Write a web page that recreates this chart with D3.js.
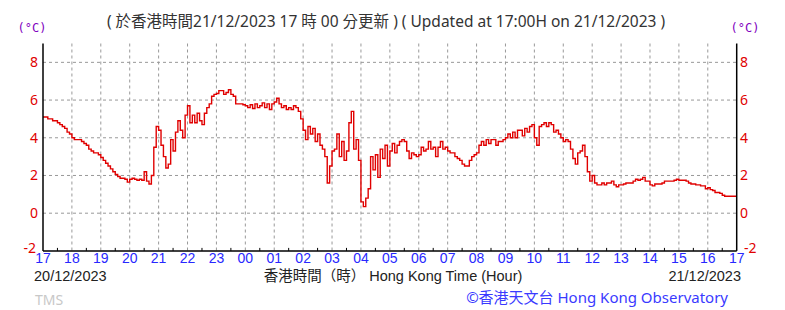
<!DOCTYPE html>
<html>
<head>
<meta charset="utf-8">
<script src="https://cdn.jsdelivr.net/npm/d3@7.9.0/dist/d3.min.js"></script>
<style>
  body { margin: 0; background: #fff; }
  text { font-family: "Noto Sans", "Noto Sans CJK TC", sans-serif; }
</style>
</head>
<body>
<div id="chart"></div>
<script>
// hour labels along the bottom (17:00 on 20/12 to 17:00 on 21/12)
const hourLabels = ["17","18","19","20","21","22","23","00","01","02","03","04",
                    "05","06","07","08","09","10","11","12","13","14","15","16","17"];
const yTicks = [-2, 0, 2, 4, 6, 8];

// temperature (deg C), one reading every 5 minutes, one row per hour
const temps = [
  5.1,5.1,5.0,5.0,4.9,4.9,4.8,4.7,4.6,4.5,4.3,4.2,          // 17
  4.0,3.9,3.9,3.9,3.8,3.7,3.6,3.4,3.3,3.2,3.2,3.1,          // 18
  2.95,2.8,2.65,2.5,2.35,2.2,2.05,1.95,1.85,1.85,1.8,1.65,  // 19
  1.8,1.85,1.8,1.75,1.8,1.75,2.2,1.7,1.55,2.0,3.5,4.6,      // 20
  4.4,3.6,3.0,2.4,2.6,3.9,3.3,4.3,4.9,4.4,4.0,5.2,          // 21
  5.7,4.8,5.2,4.8,5.3,4.9,4.7,5.3,5.6,5.8,6.2,6.3,          // 22
  6.35,6.5,6.5,6.3,6.4,6.55,6.3,6.2,5.8,5.8,5.8,5.75,       // 23
  5.7,5.6,5.75,5.55,5.8,5.6,5.7,5.85,5.6,5.8,5.5,5.8,       // 00
  5.9,6.1,5.8,5.6,5.7,5.5,5.6,5.5,5.7,5.6,5.4,5.0,          // 01
  4.4,3.9,4.6,4.2,4.5,3.8,4.2,3.6,3.4,3.0,1.6,2.5,          // 02
  3.3,3.4,4.2,3.0,3.8,2.8,3.3,4.8,5.4,3.4,3.9,2.8,          // 03
  0.6,0.35,0.8,1.3,3.0,2.3,3.1,1.9,3.4,2.9,3.6,2.5,         // 04
  3.3,3.7,3.2,3.6,3.8,3.9,3.8,3.3,2.9,3.2,3.1,3.0,          // 05
  3.1,3.5,3.3,3.4,3.8,3.4,3.5,3.0,3.5,3.8,3.4,3.5,          // 06
  3.3,3.2,3.2,3.0,2.9,2.8,2.6,2.5,2.5,2.8,3.0,3.1,          // 07
  3.2,3.6,3.8,3.6,3.9,3.7,3.9,3.9,3.6,3.8,3.8,3.9,          // 08
  4.0,4.2,4.0,4.3,4.0,4.4,4.4,4.1,4.5,4.3,4.6,4.7,          // 09
  4.0,3.6,4.6,4.7,4.8,4.6,4.8,4.7,4.3,4.4,4.2,4.0,          // 10
  3.8,3.9,3.8,3.4,2.9,2.6,3.2,3.3,3.6,3.0,2.2,1.7,          // 11
  2.0,1.6,1.5,1.5,1.6,1.5,1.6,1.6,1.7,1.5,1.4,1.5,          // 12
  1.5,1.55,1.6,1.6,1.6,1.7,1.8,1.75,1.8,1.9,1.7,1.7,        // 13
  1.5,1.45,1.55,1.55,1.55,1.6,1.7,1.7,1.7,1.7,1.75,1.8,     // 14
  1.75,1.75,1.75,1.7,1.6,1.55,1.55,1.5,1.5,1.45,1.45,1.3,   // 15
  1.35,1.25,1.2,1.1,1.1,1.05,0.95,0.9,0.9,0.9,0.9,0.9,      // 16
  0.9                                                       // 17
];

const W = 785, H = 310;
const plot = { left: 43, right: 736.7, top: 43.5, bottom: 250.9 };

const svg = d3.select("#chart").append("svg")
  .attr("width", W)
  .attr("height", H);

const x = d3.scaleLinear().domain([0, 24]).range([plot.left, plot.right]);
const y = d3.scaleLinear().domain([-2, 9]).range([plot.bottom, plot.top]);

// dashed grid
const hours = d3.range(1, 24);
svg.append("g").selectAll("line").data(hours).join("line")
  .attr("x1", d => x(d)).attr("x2", d => x(d))
  .attr("y1", plot.top).attr("y2", plot.bottom)
  .attr("stroke", "#999").attr("stroke-dasharray", "3,3");
svg.append("g").selectAll("line").data(yTicks.filter(d => d > -2)).join("line")
  .attr("x1", plot.left).attr("x2", plot.right)
  .attr("y1", d => y(d)).attr("y2", d => y(d))
  .attr("stroke", "#999").attr("stroke-dasharray", "3,3");

// temperature line
const line = d3.line()
  .x((d, i) => x(i / 12))
  .y(d => y(d))
  .curve(d3.curveStepAfter);
svg.append("path")
  .datum(temps)
  .attr("d", line)
  .attr("fill", "none")
  .attr("stroke", "#e00000")
  .attr("stroke-width", 1.4);

// axes lines
svg.append("line").attr("x1", plot.left).attr("x2", plot.left)
  .attr("y1", plot.top).attr("y2", plot.bottom).attr("stroke", "#000").attr("stroke-width", 1.5);
svg.append("line").attr("x1", plot.right).attr("x2", plot.right)
  .attr("y1", plot.top).attr("y2", plot.bottom).attr("stroke", "#000").attr("stroke-width", 1.5);
svg.append("line").attr("x1", plot.left).attr("x2", plot.right)
  .attr("y1", plot.bottom).attr("y2", plot.bottom).attr("stroke", "#000").attr("stroke-width", 1.5);

// small half-hour ticks on bottom axis
svg.append("g").selectAll("line").data(d3.range(0.5, 24, 1)).join("line")
  .attr("x1", d => x(d)).attr("x2", d => x(d))
  .attr("y1", plot.bottom - 3).attr("y2", plot.bottom)
  .attr("stroke", "#000");

// y tick labels, both sides
const yLab = svg.append("g")
  .style("font-family", "'Liberation Serif', serif")
  .style("font-size", "14px")
  .attr("fill", "#e00000");
yLab.selectAll("text.l").data(yTicks).join("text")
  .attr("class", "l")
  .attr("x", d => d < 0 ? 36 : 38).attr("y", d => y(d) + (d < 0 ? 2 : 5))
  .attr("text-anchor", "end")
  .text(d => d);
yLab.selectAll("text.r").data(yTicks).join("text")
  .attr("class", "r")
  .attr("x", d => d < 0 ? 744 : 740).attr("y", d => y(d) + (d < 0 ? 2 : 5))
  .attr("text-anchor", "start")
  .text(d => d);

// x tick labels
svg.append("g").selectAll("text").data(hourLabels).join("text")
  .attr("x", (d, i) => x(i))
  .attr("y", 263)
  .attr("text-anchor", "middle")
  .attr("fill", "#2828ff")
  .style("font-family", "'Liberation Sans', sans-serif")
  .style("font-size", "14px")
  .text(d => d);

// units
[32, 745].forEach(cx => {
  svg.append("text")
    .attr("x", cx).attr("y", 32)
    .attr("text-anchor", "middle")
    .attr("fill", "#8000c0")
    .style("font-family", "'DejaVu Sans Mono', monospace")
    .style("font-size", "12px")
    .text("(°C)");
});

// title
svg.append("text")
  .attr("x", 386).attr("y", 27)
  .attr("text-anchor", "middle")
  .attr("fill", "#333")
  .style("font-size", "15.5px")
  .text("( 於香港時間21/12/2023 17 時 00 分更新 ) ( Updated at 17:00H on 21/12/2023 )");

// bottom labels
const bottomFont = "'Liberation Sans', 'Noto Sans CJK TC', sans-serif";
svg.append("text").attr("x", 34).attr("y", 281)
  .attr("fill", "#222").style("font-family", bottomFont).style("font-size", "14.5px").text("20/12/2023");
svg.append("text").attr("x", 741).attr("y", 281)
  .attr("text-anchor", "end")
  .attr("fill", "#222").style("font-family", bottomFont).style("font-size", "14.5px").text("21/12/2023");
svg.append("text").attr("x", 393).attr("y", 281)
  .attr("text-anchor", "middle")
  .attr("fill", "#222").style("font-family", bottomFont).style("font-size", "14.5px")
  .text("香港時間（時） Hong Kong Time (Hour)");
svg.append("text").attr("x", 35).attr("y", 305)
  .attr("fill", "#c8c8c8").style("font-size", "14px").text("TMS");
svg.append("text").attr("x", 728).attr("y", 303)
  .attr("text-anchor", "end")
  .attr("fill", "#3a3aff").style("font-size", "15px")
  .text("©香港天文台 Hong Kong Observatory");
</script>
</body>
</html>
